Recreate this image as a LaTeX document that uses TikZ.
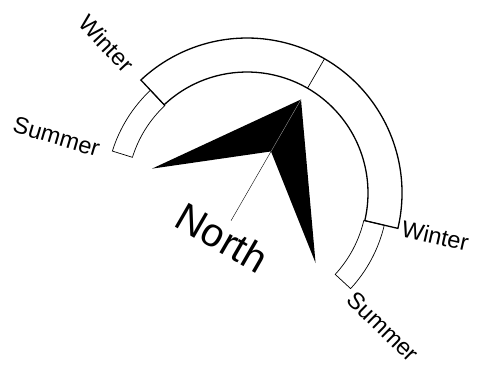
\documentclass[tikz,border=0pt]{standalone}
\usepackage{fontspec}
\setmainfont{Liberation Sans}
\begin{document}
\begin{tikzpicture}[x=1pt,y=1pt,
  winter/.style={line width=1.3pt},
  summer/.style={line width=0.7pt},
  lab/.style={inner sep=0pt, font=\fontsize{23.5}{23.5}\selectfont},
  bigl/.style={inner sep=0pt, font=\fontsize{40}{40}\selectfont},
]
\useasboundingbox (0,0) rectangle (477,-372);
\coordinate (C) at (247,-193);
% summer bands
\draw[summer] ([shift={(133.2:141)}]C) arc[start angle=133.2,end angle=162.7,radius=141]
  -- ([shift={(162.7:120)}]C) arc[start angle=162.7,end angle=133.2,radius=120] -- cycle;
\draw[summer] ([shift={(-13.2:141)}]C) arc[start angle=-13.2,end angle=-42.7,radius=141]
  -- ([shift={(-42.7:120)}]C) arc[start angle=-42.7,end angle=-13.2,radius=120] -- cycle;
% winter band
\draw[winter] ([shift={(-13.2:155)}]C) arc[start angle=-13.2,end angle=133.2,radius=155]
  -- ([shift={(133.2:121)}]C) arc[start angle=133.2,end angle=-13.2,radius=121] -- cycle;
\coordinate (d1) at ([shift={(60:121)}]C);
\coordinate (d2) at ([shift={(60:155)}]C);
\draw[summer] (d1) -- (d2);
% needle
\coordinate (tip) at ([shift={(60:108)}]C);
\coordinate (L) at ([shift={(165.6:98)}]C);
\coordinate (B) at ([shift={(-45.6:98)}]C);
\coordinate (I) at ([shift={(60:48)}]C);
\coordinate (tail) at ([shift={(240:32)}]C);
\fill (tip) -- (L) -- (I) -- (B) -- cycle;
\draw[line width=0.4pt] (I) -- (tail);
\draw[gray!60, line width=0.3pt] (tip) -- (I);
% labels
\node[lab, anchor=east, rotate=-46.8] (w1) at ([shift={(133.2:171)}]C) {Winter};
\node[lab, anchor=east, rotate=-16.5] (s1) at ([shift={(163.5:154)}]C) {Summer};
\node[lab, anchor=west, rotate=-12.8] (w2) at ([shift={(-12.8:159)}]C) {Winter};
\node[lab, anchor=west, rotate=-44.5] (s2) at ([shift={(-44.5:146)}]C) {Summer};
\node[bigl, rotate=-30] (north) at ([shift={(241:51)}]C) {North};
\end{tikzpicture}
\end{document}
